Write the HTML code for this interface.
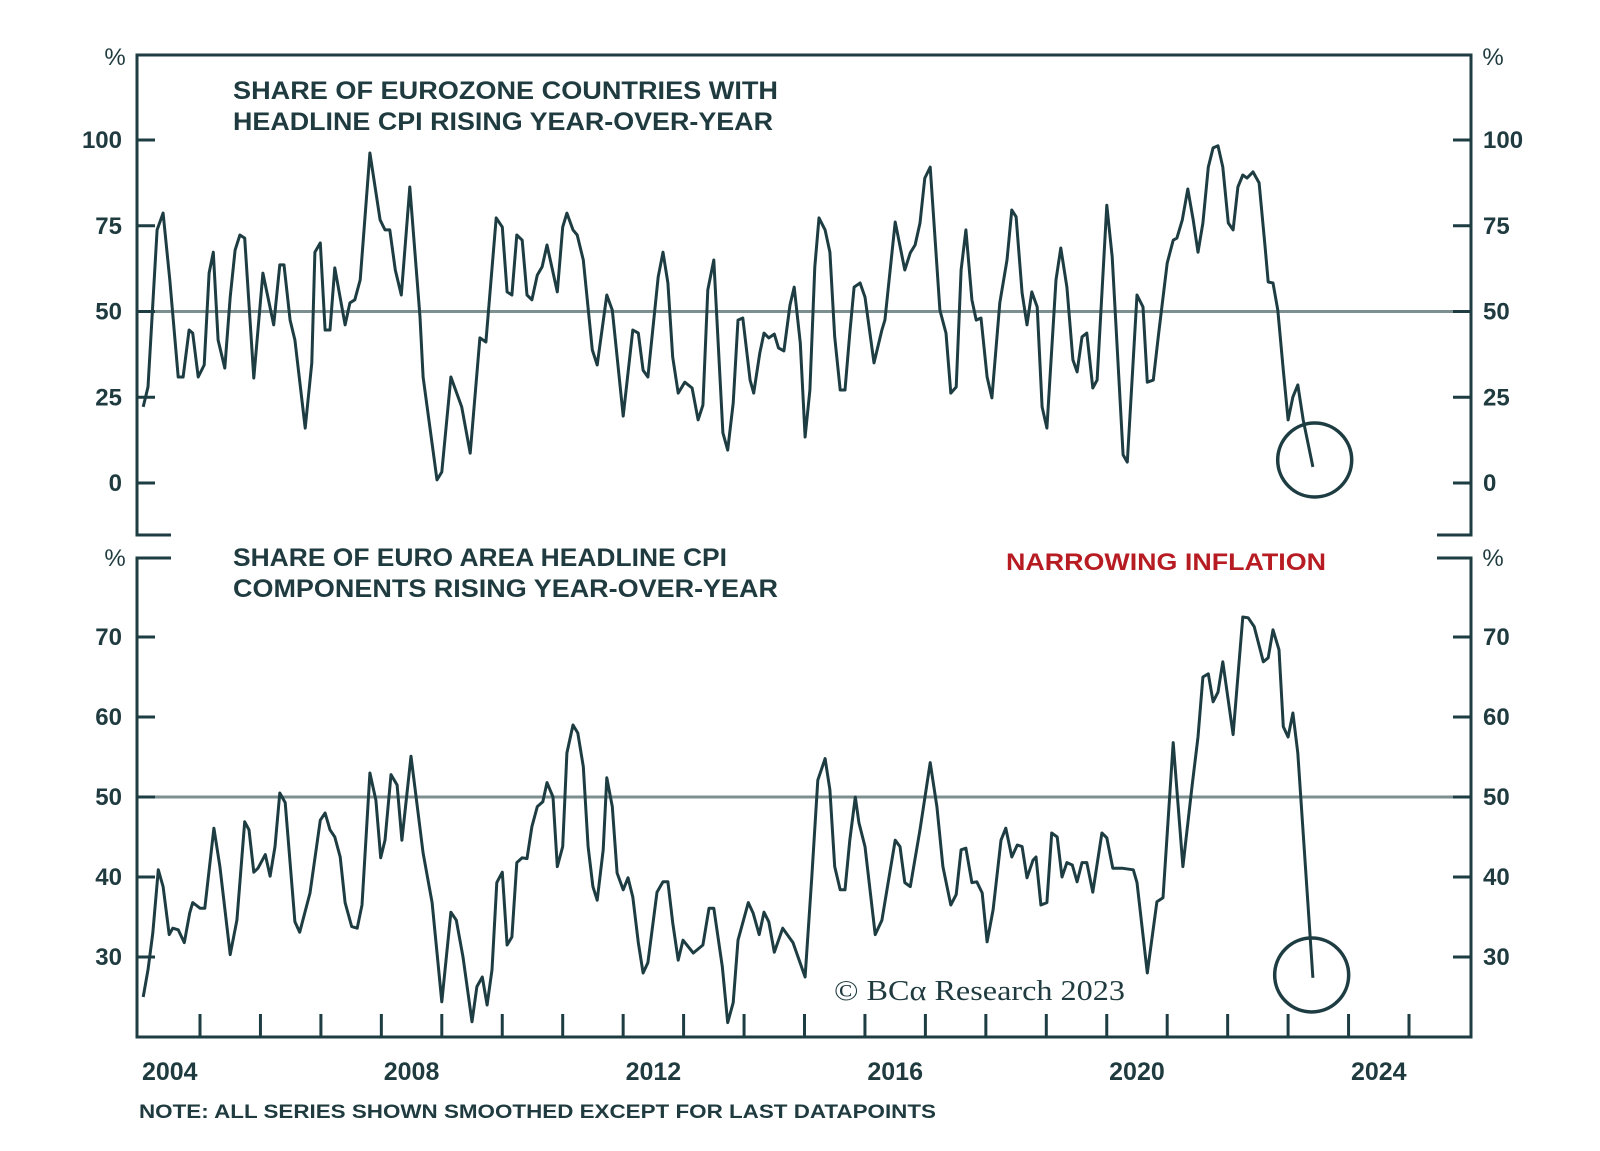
<!DOCTYPE html>
<html><head><meta charset="utf-8"><style>
html,body{margin:0;padding:0;background:#fff;}
svg{display:block;}
text{font-family:"Liberation Sans",sans-serif;}
</style></head><body>
<svg id="chart" width="1600" height="1151" viewBox="0 0 1600 1151" xmlns="http://www.w3.org/2000/svg">
<g id="frame" stroke="#1d3d42" stroke-width="3" fill="none">
<path d="M171 535 H137 V55 H1471 V535 H1437"/>
<path d="M171 558 H137 V1037 H1471 V558 H1437"/>
</g>
<g id="texts" fill="#1f3b3f" font-weight="bold">
<text x="115" y="65" font-size="24" text-anchor="middle" font-weight="normal">%</text>
<text x="1493" y="65" font-size="24" text-anchor="middle" font-weight="normal">%</text>
<text x="115" y="566" font-size="24" text-anchor="middle" font-weight="normal">%</text>
<text x="1493" y="566" font-size="24" text-anchor="middle" font-weight="normal">%</text>
<text x="233" y="99" font-size="25" textLength="545" lengthAdjust="spacingAndGlyphs">SHARE OF EUROZONE COUNTRIES WITH</text>
<text x="233" y="130" font-size="25" textLength="540" lengthAdjust="spacingAndGlyphs">HEADLINE CPI RISING YEAR-OVER-YEAR</text>
<text x="233" y="566" font-size="25" textLength="494" lengthAdjust="spacingAndGlyphs">SHARE OF EURO AREA HEADLINE CPI</text>
<text x="233" y="597" font-size="25" textLength="545" lengthAdjust="spacingAndGlyphs">COMPONENTS RISING YEAR-OVER-YEAR</text>
<text x="1006" y="570" font-size="24" fill="#b71c23" textLength="320" lengthAdjust="spacingAndGlyphs">NARROWING INFLATION</text>
<text x="139" y="1118" font-size="19" textLength="797" lengthAdjust="spacingAndGlyphs">NOTE: ALL SERIES SHOWN SMOOTHED EXCEPT FOR LAST DATAPOINTS</text>
<text x="834" y="1000" font-size="29" font-weight="normal" style="font-family:'Liberation Serif',serif" textLength="291" lengthAdjust="spacingAndGlyphs">© BCα Research 2023</text>
</g>
<g id="axes"></g>
<g id="series"></g>
</svg>
<script>
// ---- data ----
const xTickYears = [2004,2008,2012,2016,2020,2024];
const topTicks = [0,25,50,75,100];
const bottomTicks = [30,40,50,60,70];
const refLevel = 50;
const topDates = [2004.06,2004.14,2004.29,2004.39,2004.50,2004.64,2004.72,2004.82,2004.88,2004.97,2005.07,2005.15,2005.22,2005.30,2005.41,2005.50,2005.58,2005.66,2005.74,2005.89,2006.04,2006.22,2006.32,2006.39,2006.49,2006.57,2006.74,2006.85,2006.90,2006.99,2007.07,2007.15,2007.23,2007.40,2007.48,2007.56,2007.65,2007.81,2007.98,2008.06,2008.14,2008.23,2008.33,2008.47,2008.64,2008.69,2008.92,2009.00,2009.15,2009.33,2009.47,2009.63,2009.73,2009.90,2010.00,2010.08,2010.16,2010.24,2010.33,2010.41,2010.49,2010.58,2010.66,2010.74,2010.91,2011.00,2011.07,2011.17,2011.24,2011.34,2011.49,2011.57,2011.73,2011.82,2012.00,2012.16,2012.25,2012.33,2012.41,2012.58,2012.66,2012.74,2012.82,2012.91,2013.02,2013.14,2013.24,2013.32,2013.40,2013.50,2013.65,2013.73,2013.82,2013.90,2013.98,2014.10,2014.16,2014.26,2014.33,2014.41,2014.50,2014.57,2014.66,2014.76,2014.83,2014.93,2015.01,2015.09,2015.17,2015.24,2015.34,2015.42,2015.50,2015.59,2015.67,2015.75,2015.82,2015.92,2016.00,2016.15,2016.28,2016.33,2016.50,2016.66,2016.75,2016.83,2016.91,2016.99,2017.08,2017.24,2017.34,2017.42,2017.51,2017.59,2017.67,2017.77,2017.84,2017.92,2018.02,2018.10,2018.23,2018.35,2018.43,2018.50,2018.60,2018.68,2018.76,2018.85,2018.93,2019.01,2019.16,2019.24,2019.34,2019.44,2019.51,2019.59,2019.67,2019.77,2019.84,2020.00,2020.09,2020.27,2020.34,2020.50,2020.60,2020.67,2020.77,2020.86,2021.00,2021.10,2021.16,2021.25,2021.34,2021.43,2021.51,2021.59,2021.68,2021.76,2021.84,2021.92,2022.01,2022.09,2022.17,2022.25,2022.32,2022.42,2022.52,2022.62,2022.67,2022.75,2022.83,2022.92,2023.00,2023.08,2023.16,2023.25,2023.41];
const topValues = [22.2,28.0,73.8,78.7,59.2,30.9,30.9,44.6,43.7,30.9,34.4,61.2,67.3,41.7,33.5,54.2,67.9,72.3,71.4,30.6,61.2,46.1,63.6,63.6,47.5,41.7,16.0,35.0,67.3,70.0,44.6,44.6,62.7,46.1,52.5,53.4,59.2,96.2,76.7,73.8,73.8,62.1,54.8,86.3,48.4,30.9,0.9,3.2,30.9,22.2,8.7,42.3,41.1,77.3,74.6,55.7,54.8,72.3,70.8,54.8,53.4,60.6,63.0,69.4,55.7,74.6,78.7,73.8,72.3,65.0,38.8,34.4,54.8,50.4,19.5,44.6,43.7,32.9,30.9,60.1,67.3,58.3,36.7,26.2,29.4,27.7,18.4,22.7,56.3,65.0,14.6,9.6,23.3,47.5,48.1,30.0,26.2,37.9,43.7,42.3,43.4,39.4,38.5,51.9,57.1,40.8,13.4,27.1,63.0,77.3,73.8,67.3,42.6,27.1,27.1,43.7,57.1,58.3,54.2,35.0,44.6,47.5,76.1,62.1,67.1,69.4,75.8,88.9,92.1,50.4,43.7,26.2,28.0,62.1,73.8,53.4,47.5,48.1,30.9,24.8,52.5,65.0,79.6,77.6,55.4,46.1,55.7,51.3,22.2,16.0,59.2,68.5,57.1,35.9,32.4,42.6,43.7,27.7,30.0,81.0,65.9,8.2,6.1,54.8,51.3,29.4,30.0,43.7,64.1,70.8,71.4,76.7,85.7,76.7,67.3,75.8,92.1,97.7,98.3,92.1,75.8,73.8,86.3,89.8,88.9,90.7,87.5,68.8,58.6,58.3,50.4,32.9,18.4,25.1,28.6,18.4,4.7];
const bottomDates = [2004.06,2004.14,2004.22,2004.31,2004.39,2004.49,2004.55,2004.64,2004.74,2004.83,2004.88,2005.00,2005.08,2005.23,2005.33,2005.50,2005.61,2005.74,2005.81,2005.89,2005.96,2006.08,2006.16,2006.24,2006.32,2006.41,2006.57,2006.65,2006.82,2006.99,2007.07,2007.15,2007.23,2007.32,2007.40,2007.51,2007.60,2007.68,2007.81,2007.91,2007.99,2008.06,2008.16,2008.26,2008.34,2008.49,2008.69,2008.84,2009.00,2009.15,2009.24,2009.35,2009.50,2009.58,2009.67,2009.75,2009.83,2009.91,2010.00,2010.08,2010.16,2010.24,2010.33,2010.41,2010.49,2010.58,2010.67,2010.74,2010.84,2010.91,2011.00,2011.07,2011.17,2011.25,2011.34,2011.42,2011.50,2011.57,2011.67,2011.73,2011.82,2011.90,2012.00,2012.08,2012.16,2012.25,2012.33,2012.41,2012.56,2012.66,2012.74,2012.82,2012.91,2012.99,2013.16,2013.32,2013.42,2013.50,2013.64,2013.73,2013.82,2013.90,2014.07,2014.15,2014.25,2014.33,2014.41,2014.50,2014.64,2014.81,2015.01,2015.12,2015.22,2015.34,2015.42,2015.50,2015.59,2015.67,2015.75,2015.84,2015.90,2016.00,2016.17,2016.28,2016.50,2016.58,2016.66,2016.75,2016.91,2017.08,2017.19,2017.29,2017.42,2017.51,2017.59,2017.67,2017.77,2017.85,2017.94,2018.02,2018.12,2018.25,2018.33,2018.43,2018.52,2018.60,2018.68,2018.78,2018.83,2018.91,2019.01,2019.09,2019.18,2019.26,2019.34,2019.43,2019.51,2019.59,2019.67,2019.77,2019.92,2020.00,2020.10,2020.25,2020.44,2020.50,2020.67,2020.83,2020.93,2021.10,2021.26,2021.41,2021.51,2021.59,2021.68,2021.76,2021.84,2021.92,2022.09,2022.25,2022.34,2022.44,2022.59,2022.67,2022.75,2022.85,2022.92,2023.00,2023.08,2023.16,2023.41];
const bottomValues = [25.0,28.4,33.0,40.9,38.8,32.8,33.6,33.4,31.8,35.5,36.8,36.1,36.1,46.1,41.3,30.3,34.6,46.9,45.9,40.6,41.1,42.8,40.1,43.8,50.5,49.3,34.4,33.1,38.0,47.1,48.0,45.9,45.0,42.5,36.8,33.8,33.6,36.5,53.0,49.6,42.4,44.6,52.8,51.5,44.6,55.1,43.0,36.8,24.4,35.6,34.6,30.0,21.9,26.3,27.5,24.0,28.4,39.3,40.6,31.5,32.5,41.8,42.4,42.3,46.3,48.8,49.4,51.8,50.0,41.3,43.8,55.5,59.0,58.0,53.8,43.8,38.8,37.1,43.4,52.4,48.8,40.5,38.4,39.9,37.5,31.8,28.0,29.3,38.1,39.4,39.4,34.3,29.6,32.1,30.5,31.5,36.1,36.1,28.8,21.8,24.3,32.1,36.8,35.5,32.8,35.6,34.4,30.6,33.6,31.8,27.5,40.0,52.1,54.8,50.9,41.3,38.4,38.4,44.6,50.0,46.8,43.8,32.8,34.6,44.6,43.8,39.3,38.8,45.9,54.3,48.8,41.3,36.5,37.8,43.4,43.6,39.3,39.4,38.0,31.9,35.9,44.6,46.1,42.5,44.0,43.8,39.9,42.1,42.5,36.5,36.8,45.5,45.0,40.0,41.8,41.5,39.4,41.8,41.8,38.1,45.5,44.9,41.1,41.1,40.9,39.3,28.0,36.9,37.4,56.8,41.3,51.3,57.5,65.0,65.4,61.9,63.1,66.9,57.8,72.5,72.4,71.3,66.9,67.4,70.9,68.4,58.8,57.5,60.5,55.5,27.4];
const topCircle = [2023.44, 6.7];
const bottomCircle = [2023.39, 27.75];

// ---- scales ----
const NS = 'http://www.w3.org/2000/svg';
function xS(t){ return 139.55 + (t - 2004) * 60.45; }
function yTop(v){ return 483 - v * 3.43; }
function yBot(v){ return 797 - (v - 50) * 8.0; }
const axes = document.getElementById('axes');
const series = document.getElementById('series');
function mk(tag, attrs, parent){
  const e = document.createElementNS(NS, tag);
  for (const k in attrs) e.setAttribute(k, attrs[k]);
  parent.appendChild(e);
  return e;
}

let r1 = mk('line', {x1:137, x2:1471, y1:yTop(refLevel), y2:yTop(refLevel), stroke:'#7d8f8f', 'stroke-width':3}, axes);


let r2 = mk('line', {x1:137, x2:1471, y1:yBot(refLevel), y2:yBot(refLevel), stroke:'#7d8f8f', 'stroke-width':3}, axes);



function yAxis(ticks, yf, prefix){
  ticks.forEach(v => {
    const y = yf(v);
    let l = mk('line', {x1:137, x2:155, y1:y, y2:y, stroke:'#1d3d42', 'stroke-width':3}, axes);
    
    
    let r = mk('line', {x1:1453, x2:1471, y1:y, y2:y, stroke:'#1d3d42', 'stroke-width':3}, axes);
    
    
    let tl = mk('text', {x:122, y:y + 8, 'text-anchor':'end', 'font-size':24, 'font-weight':'bold', fill:'#1f3b3f'}, axes);
    tl.textContent = v;
    
    
    let tr = mk('text', {x:1483, y:y + 8, 'text-anchor':'start', 'font-size':24, 'font-weight':'bold', fill:'#1f3b3f'}, axes);
    tr.textContent = v;
    
    
  });
}
yAxis(topTicks, yTop, 'top-y');
yAxis(bottomTicks, yBot, 'bottom-y');

for (let yr = 2005; yr <= 2025; yr++){
  let t = mk('line', {x1:xS(yr), x2:xS(yr), y1:1014, y2:1037, stroke:'#1d3d42', 'stroke-width':3}, axes);
  
  
}
xTickYears.forEach(yr => {
  let t = mk('text', {x:xS(yr + 0.5), y:1080, 'text-anchor':'middle', 'font-size':25, 'font-weight':'bold', fill:'#1f3b3f'}, axes);
  t.textContent = yr;
  
  
});

function line(dates, vals, yf, name){
  const d = dates.map((t, i) => (i ? 'L' : 'M') + xS(t).toFixed(1) + ' ' + yf(vals[i]).toFixed(1)).join(' ');
  let p = mk('path', {d:d, fill:'none', stroke:'#1d3d42', 'stroke-width':3, 'stroke-linejoin':'round'}, series);
  
  
}
line(topDates, topValues, yTop, 'eurozone-countries-share-line');
line(bottomDates, bottomValues, yBot, 'cpi-components-share-line');

let c1 = mk('circle', {cx:xS(topCircle[0]), cy:yTop(topCircle[1]), r:37, fill:'none', stroke:'#1d3d42', 'stroke-width':3.5}, series);


let c2 = mk('circle', {cx:xS(bottomCircle[0]), cy:yBot(bottomCircle[1]), r:37, fill:'none', stroke:'#1d3d42', 'stroke-width':3.5}, series);


</script>
</body></html>
